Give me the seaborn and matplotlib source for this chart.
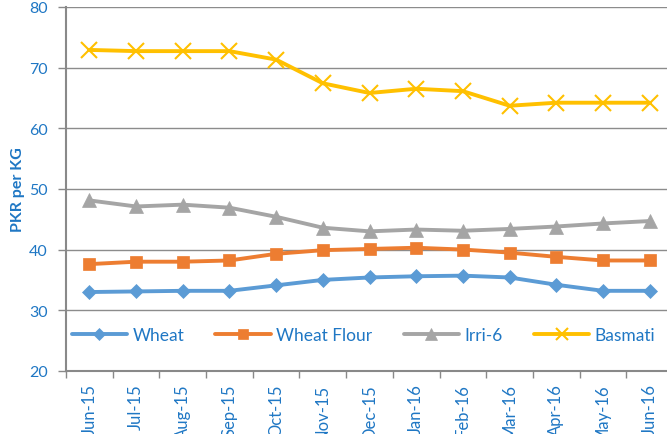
import pandas as pd
import seaborn as sns
import matplotlib.pyplot as plt
from matplotlib.ticker import FixedLocator

# monthly prices, PKR per KG
months = ['Jun-15', 'Jul-15', 'Aug-15', 'Sep-15', 'Oct-15', 'Nov-15', 'Dec-15',
          'Jan-16', 'Feb-16', 'Mar-16', 'Apr-16', 'May-16', 'Jun-16']
wheat = [33.0, 33.1, 33.2, 33.2, 34.1, 35.0, 35.4, 35.6, 35.7, 35.4, 34.2, 33.2, 33.2]
wheat_flour = [37.6, 38.0, 38.0, 38.2, 39.3, 39.9, 40.1, 40.3, 40.0, 39.5, 38.8, 38.2, 38.2]
irri6 = [48.1, 47.1, 47.4, 46.9, 45.4, 43.6, 43.0, 43.3, 43.1, 43.4, 43.8, 44.3, 44.7]
basmati = [72.9, 72.7, 72.7, 72.7, 71.3, 67.4, 65.8, 66.5, 66.1, 63.7, 64.2, 64.2, 64.2]

series = {'Wheat': wheat, 'Wheat Flour': wheat_flour, 'Irri-6': irri6, 'Basmati': basmati}
colors = {'Wheat': '#5B9BD5', 'Wheat Flour': '#ED7D31', 'Irri-6': '#A5A5A5', 'Basmati': '#FFC000'}
markers = {'Wheat': 'D', 'Wheat Flour': 's', 'Irri-6': '^', 'Basmati': 'x'}
msizes = {'Wheat': 7, 'Wheat Flour': 9, 'Irri-6': 10, 'Basmati': 11}

df = pd.concat([pd.DataFrame({'month': months, 'price': v, 'crop': k}) for k, v in series.items()])

sns.set_style('white')
plt.rcParams['font.family'] = ['Lato', 'DejaVu Sans']
blue = '#1F77C4'

fig = plt.figure(figsize=(6.67, 4.35), dpi=100)
ax = fig.add_axes([0.099, 0.145, 0.91, 0.837])

for crop in series:
    d = df[df.crop == crop]
    sns.lineplot(data=d, x='month', y='price', ax=ax, color=colors[crop], linewidth=2.8,
                 marker=markers[crop], markersize=msizes[crop], markeredgecolor=colors[crop],
                 markeredgewidth=1.5 if crop == 'Basmati' else 0.5, label=crop, sort=False)

ax.set_xlim(-0.5, len(months) - 0.5)
ax.set_ylim(20, 80)
ax.set_yticks(range(20, 81, 10))
ax.set_xticks(range(len(months)))
ax.set_xticklabels(months, rotation=90, color=blue, fontsize=12)
ax.xaxis.set_minor_locator(FixedLocator([i - 0.5 for i in range(len(months) + 1)]))
ax.tick_params(axis='x', which='major', length=0, pad=9)
ax.tick_params(axis='x', which='minor', length=5, color='#898989', width=1, bottom=True)
ax.tick_params(axis='y', length=6, color='#898989', width=1, labelcolor=blue, labelsize=11.5,
               left=True, pad=7)
ax.set_xlabel('')
ax.set_ylabel('PKR per KG', color=blue, fontsize=11.5, fontweight='bold', labelpad=3)

ax.grid(axis='y', color='#8C8C8C', linewidth=1)
ax.set_axisbelow(True)
for s in ['top', 'right']:
    ax.spines[s].set_visible(False)
for s in ['left', 'bottom']:
    ax.spines[s].set_color('#898989')
    ax.spines[s].set_linewidth(1.5)

leg = ax.legend(loc='center', bbox_to_anchor=(0.49, 0.099), ncol=4, frameon=False,
                handlelength=3.2, columnspacing=1.8, handletextpad=0.3, fontsize=12.5,
                markerscale=0.85)
for t in leg.get_texts():
    t.set_color(blue)

fig.savefig('out.png', dpi=100)
